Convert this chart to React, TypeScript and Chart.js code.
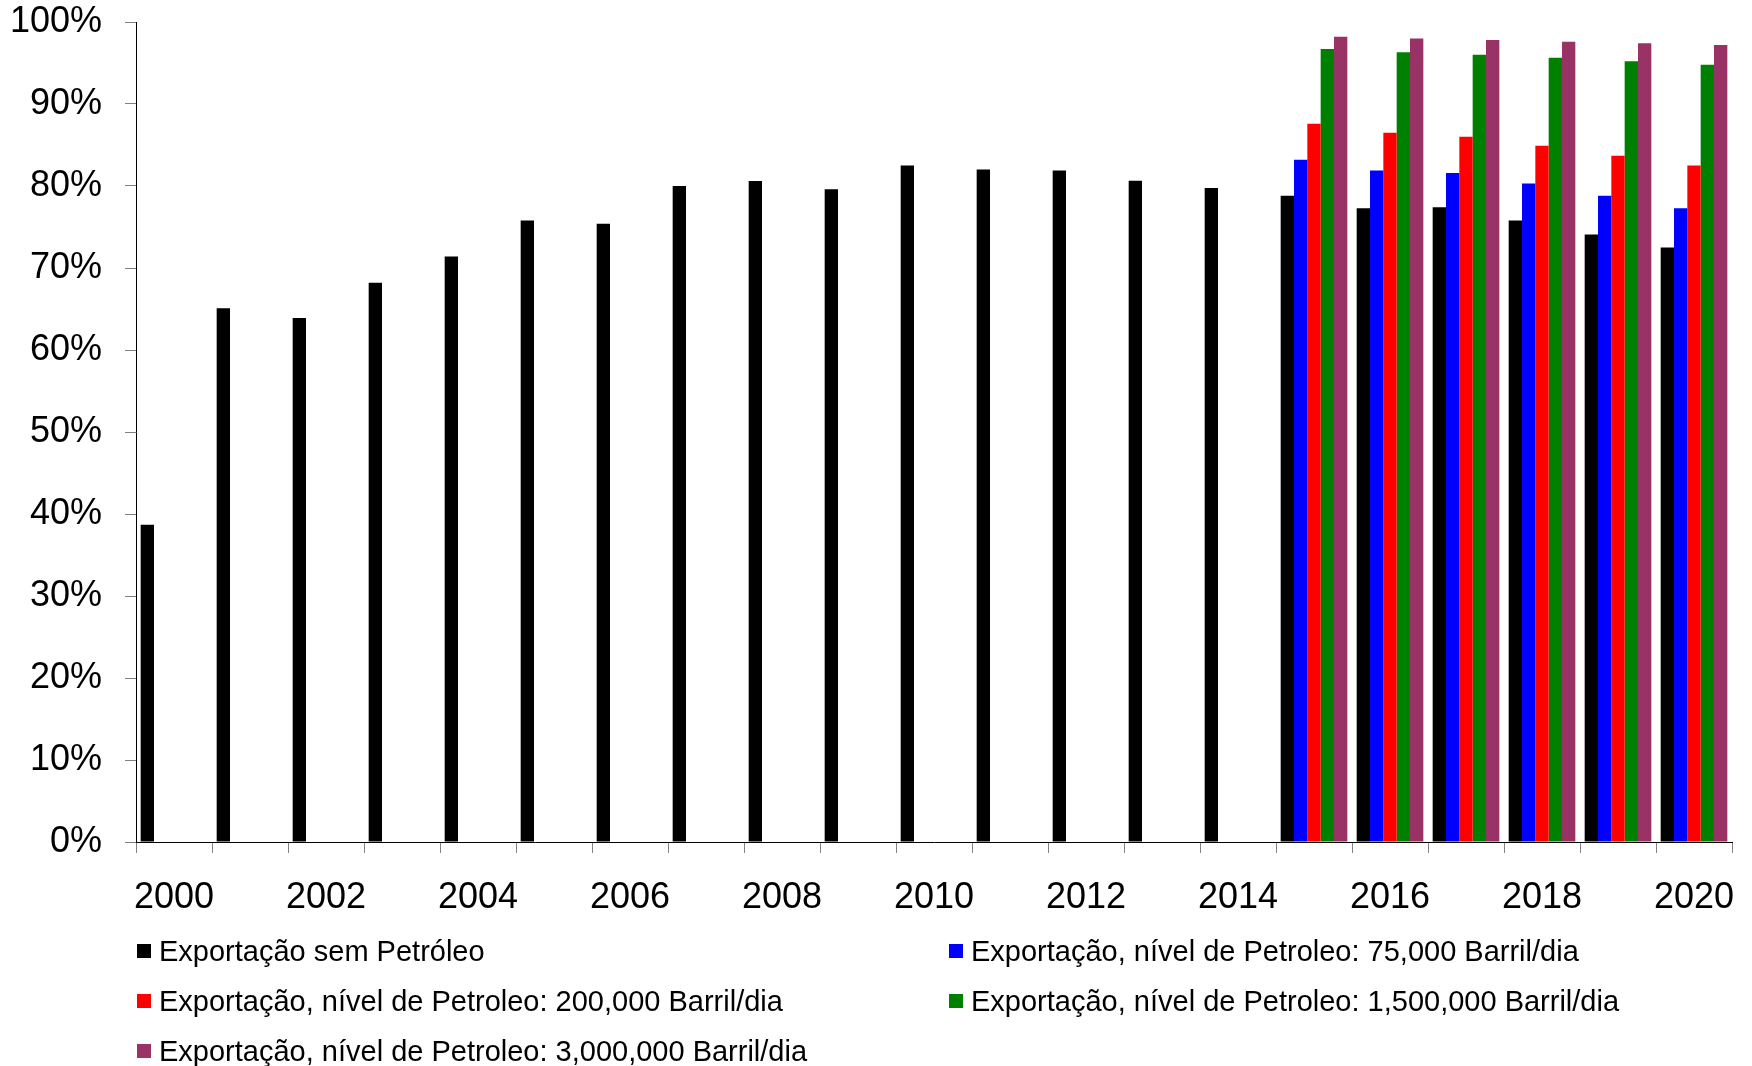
import { useEffect, useRef } from "react";
import { Chart, registerables } from "chart.js";

Chart.register(...registerables);

// Years on the category axis
const years = [
  "2000", "2001", "2002", "2003", "2004", "2005", "2006", "2007", "2008", "2009", "2010",
  "2011", "2012", "2013", "2014", "2015", "2016", "2017", "2018", "2019", "2020",
];

// Years that carry the oil-scenario projections
const projectionYears = ["2015", "2016", "2017", "2018", "2019", "2020"];

// Share of exports (%) without oil, one value per year
const semPetroleo = [
  38.7, 65.1, 63.9, 68.2, 71.4, 75.8, 75.4, 80.0, 80.6, 79.6, 82.5,
  82.0, 81.9, 80.65, 79.75, 78.8, 77.3, 77.4, 75.8, 74.1, 72.5,
];

// Oil scenarios (%), one value per projection year
const petroleo75k = [83.2, 81.9, 81.6, 80.3, 78.8, 77.3];
const petroleo200k = [87.6, 86.5, 86.0, 84.9, 83.7, 82.5];
const petroleo1500k = [96.7, 96.3, 96.0, 95.65, 95.2, 94.8];
const petroleo3000k = [98.2, 98.0, 97.8, 97.6, 97.4, 97.2];

const seriesLabels = [
  "Exportação sem Petróleo",
  "Exportação, nível de Petroleo: 75,000 Barril/dia",
  "Exportação, nível de Petroleo: 200,000 Barril/dia",
  "Exportação, nível de Petroleo: 1,500,000 Barril/dia",
  "Exportação, nível de Petroleo: 3,000,000 Barril/dia",
];
const seriesColors = ["#000000", "#0000FF", "#FF0000", "#008000", "#993366"];

const FONT = "'Liberation Sans', Arial, Helvetica, sans-serif";

// Spread a projection series over the full year axis (no bar before 2015)
function spreadOverYears(values: number[]): (number | null)[] {
  return years.map((y) => {
    const i = projectionYears.indexOf(y);
    return i >= 0 ? values[i] : null;
  });
}

// Two-column legend drawn under the axis labels
const gridLegend = {
  id: "gridLegend",
  afterDraw(chart: any) {
    const ctx = chart.ctx as CanvasRenderingContext2D;
    const columnX = [137, 949];
    const firstBaseline = 961;
    const rowGap = 50;
    const box = 14;
    ctx.save();
    ctx.font = `29px ${FONT}`;
    ctx.textBaseline = "alphabetic";
    ctx.textAlign = "left";
    chart.data.datasets.forEach((ds: any, i: number) => {
      const x = columnX[i % 2];
      const base = firstBaseline + Math.floor(i / 2) * rowGap;
      ctx.fillStyle = ds.backgroundColor;
      ctx.fillRect(x, base - 17, box, box);
      ctx.fillStyle = "#000000";
      ctx.fillText(ds.label, x + 22, base);
    });
    ctx.restore();
  },
};

export default function App() {
  const canvasRef = useRef<HTMLCanvasElement | null>(null);

  useEffect(() => {
    const canvas = canvasRef.current;
    if (!canvas) return;

    const seriesData = [
      semPetroleo,
      spreadOverYears(petroleo75k),
      spreadOverYears(petroleo200k),
      spreadOverYears(petroleo1500k),
      spreadOverYears(petroleo3000k),
    ];

    const chart = new Chart(canvas, {
      type: "bar",
      data: {
        labels: years,
        datasets: seriesData.map((d, i) => ({
          label: seriesLabels[i],
          data: d,
          backgroundColor: seriesColors[i],
          borderWidth: 0,
          categoryPercentage: 0.877,
          barPercentage: 1.0,
        })),
      },
      options: {
        responsive: false,
        animation: false,
        events: [],
        layout: { padding: { top: 0, right: 20, bottom: 0, left: 0 } },
        plugins: {
          legend: { display: false },
          tooltip: { enabled: false },
          title: { display: false },
        },
        scales: {
          x: {
            offset: true,
            grid: {
              offset: true,
              drawOnChartArea: false,
              drawTicks: true,
              tickLength: 11,
              color: "#808080",
            },
            border: { display: true, color: "#000000", width: 1 },
            ticks: {
              autoSkip: false,
              maxRotation: 0,
              minRotation: 0,
              padding: 23,
              color: "#000000",
              font: { family: FONT, size: 36 },
              callback: (_v: any, index: number) => (index % 2 === 0 ? years[index] : ""),
            },
            afterFit: (scale: any) => {
              scale.height = 224;
              scale.paddingRight = 0;
            },
          },
          y: {
            min: 0,
            max: 100,
            grid: {
              drawOnChartArea: false,
              drawTicks: true,
              tickLength: 11,
              color: "#808080",
            },
            border: { display: true, color: "#000000", width: 1 },
            ticks: {
              stepSize: 10,
              padding: 23,
              color: "#000000",
              font: { family: FONT, size: 36 },
              callback: (v: any) => `${v}%`,
            },
            afterFit: (scale: any) => {
              scale.width = 136;
              scale.paddingTop = 22;
              scale.paddingBottom = 0;
            },
          },
        },
      },
      plugins: [gridLegend],
    });

    return () => chart.destroy();
  }, []);

  return (
    <div
      style={{
        position: "absolute",
        left: 0,
        top: 0,
        width: 1752,
        height: 1066,
        background: "#ffffff",
      }}
    >
      <canvas ref={canvasRef} width={1752} height={1066} />
    </div>
  );
}
